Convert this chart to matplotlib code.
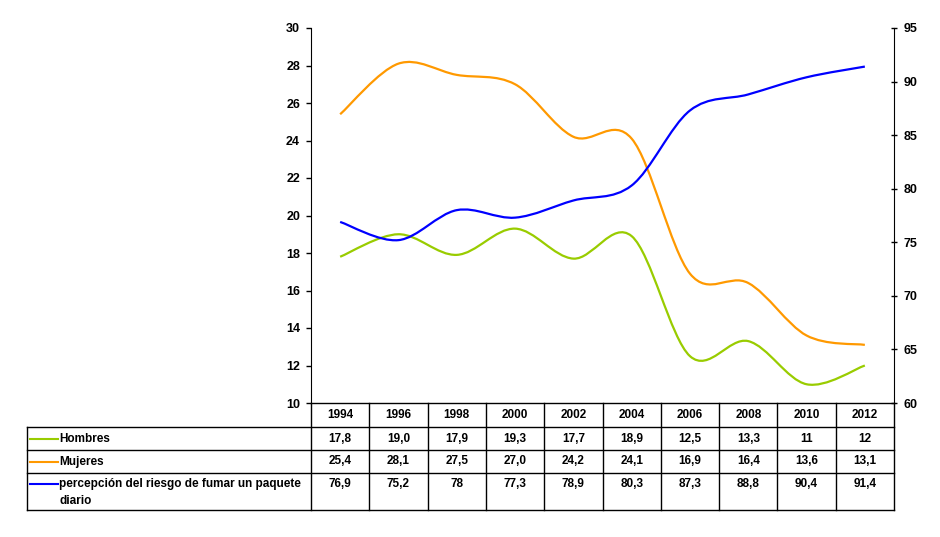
import matplotlib
matplotlib.use("Agg")
import matplotlib.pyplot as plt
from matplotlib.path import Path
from matplotlib.patches import PathPatch
from matplotlib.lines import Line2D

plt.rcParams['font.family'] = ['Liberation Sans', 'DejaVu Sans']
plt.rcParams['font.weight'] = 'bold'
plt.rcParams['font.size'] = 8.5

# datos
years = ['1994', '1996', '1998', '2000', '2002', '2004', '2006', '2008', '2010', '2012']
hombres = [17.8, 19.0, 17.9, 19.3, 17.7, 18.9, 12.5, 13.3, 11, 12]
mujeres = [25.4, 28.1, 27.5, 27.0, 24.2, 24.1, 16.9, 16.4, 13.6, 13.1]
percepcion = [76.9, 75.2, 78, 77.3, 78.9, 80.3, 87.3, 88.8, 90.4, 91.4]
hombres_txt = ['17,8', '19,0', '17,9', '19,3', '17,7', '18,9', '12,5', '13,3', '11', '12']
mujeres_txt = ['25,4', '28,1', '27,5', '27,0', '24,2', '24,1', '16,9', '16,4', '13,6', '13,1']
percepcion_txt = ['76,9', '75,2', '78', '77,3', '78,9', '80,3', '87,3', '88,8', '90,4', '91,4']

verde = '#99CC00'
naranja = '#FF9900'
azul = '#0000FF'


def curva_suave(ax, ys, color):
    # curva tipo excel (catmull-rom con bezier)
    n = len(ys)
    pts = list(zip(range(n), ys))
    verts = [pts[0]]
    codes = [Path.MOVETO]
    for i in range(n - 1):
        p0 = pts[max(i - 1, 0)]
        p1 = pts[i]
        p2 = pts[i + 1]
        p3 = pts[min(i + 2, n - 1)]
        c1 = (p1[0] + (p2[0] - p0[0]) / 6, p1[1] + (p2[1] - p0[1]) / 6)
        c2 = (p2[0] - (p3[0] - p1[0]) / 6, p2[1] - (p3[1] - p1[1]) / 6)
        verts += [c1, c2, p2]
        codes += [Path.CURVE4] * 3
    patch = PathPatch(Path(verts, codes), facecolor='none', edgecolor=color,
                      lw=1.6, transform=ax.transData, capstyle='butt')
    ax.add_patch(patch)


fig = plt.figure(figsize=(9.4, 5.37), dpi=100)
ax = fig.add_axes([311 / 940, 1 - 403 / 537, 583 / 940, 375 / 537])
ax2 = ax.twinx()

ax.set_xlim(-0.5, len(years) - 0.5)
ax.set_ylim(10, 30)
ax.set_yticks(range(10, 31, 2))
ax2.set_ylim(60, 95)
ax2.set_yticks(range(60, 96, 5))

curva_suave(ax, hombres, verde)
curva_suave(ax, mujeres, naranja)
curva_suave(ax2, percepcion, azul)

for a in (ax, ax2):
    a.set_xticks([])
    a.spines['top'].set_visible(False)
    a.spines['bottom'].set_visible(False)
    a.patch.set_visible(False)
ax.spines['right'].set_visible(False)
ax2.spines['left'].set_visible(False)
ax.tick_params(axis='y', direction='out', length=3.6, width=1, pad=4.3, labelsize=9)
ax2.tick_params(axis='y', direction='inout', length=5, width=1, pad=4.5, labelsize=9)

# tabla de datos
H = 375.0
W = 583.0
def fy(py):
    return (403 - py) / H
def fx(px):
    return (px - 311) / W

filas = [403, 427, 450, 473, 510]
x_izq = 27
tr = ax.transAxes
kw = dict(color='black', lw=1, transform=tr, clip_on=False)

# horizontales
ax.add_line(Line2D([0, 1], [fy(403)] * 2, **kw))
for py in filas[1:]:
    ax.add_line(Line2D([fx(x_izq), 1], [fy(py)] * 2, **kw))
# verticales
ax.add_line(Line2D([fx(x_izq)] * 2, [fy(427), fy(510)], **kw))
for i in range(len(years) + 1):
    ax.add_line(Line2D([i / len(years)] * 2, [fy(403), fy(510)], **kw))

for i, y in enumerate(years):
    xc = (i + 0.5) / len(years)
    ax.text(xc, fy(415), y, transform=tr, ha='center', va='center')
    ax.text(xc, fy(438.5), hombres_txt[i], transform=tr, ha='center', va='center')
    ax.text(xc, fy(461.5), mujeres_txt[i], transform=tr, ha='center', va='center')
    ax.text(xc, fy(484), percepcion_txt[i], transform=tr, ha='center', va='center')

etiquetas = [('Hombres', verde, 438.5), ('Mujeres', naranja, 461.5),
             ('percepción del riesgo de fumar un paquete', azul, 484)]
for txt, c, py in etiquetas:
    ax.add_line(Line2D([fx(30), fx(58)], [fy(py)] * 2, color=c, lw=1.5,
                       transform=tr, clip_on=False))
    ax.text(fx(59), fy(py), txt, transform=tr, ha='left', va='center')
ax.text(fx(59), fy(501), 'diario', transform=tr, ha='left', va='center')

fig.savefig('out.png', dpi=100)
